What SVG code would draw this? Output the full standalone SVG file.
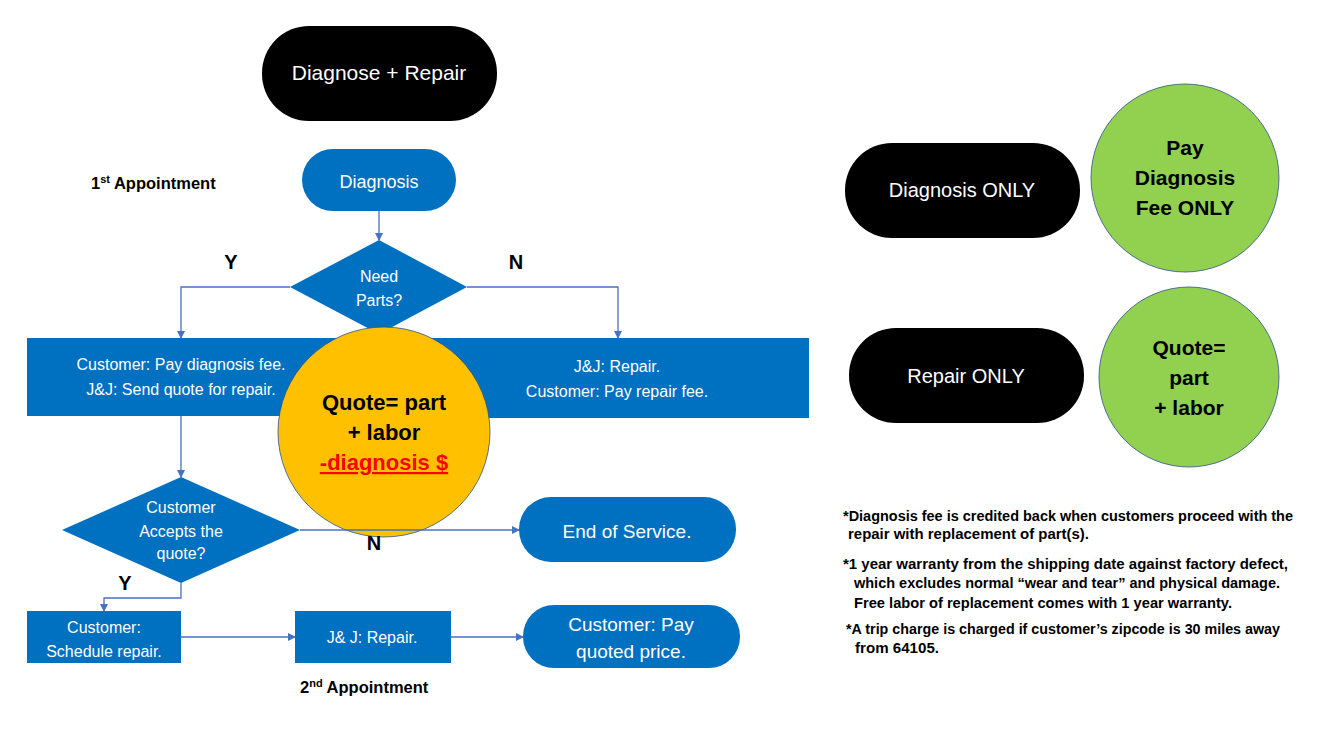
<svg xmlns="http://www.w3.org/2000/svg" width="1321" height="732" viewBox="0 0 1321 732">
<style>
text{font-family:"Liberation Sans",Arial,sans-serif;text-anchor:middle}
.w{fill:#fff;font-size:16px}
.wl{fill:#fff;font-size:19px}
.b{fill:#000;font-weight:bold}
.blue{fill:#0070C0}
.blk{fill:#000}
.c{stroke:#4472C4;stroke-width:1.3;fill:none}
.note{fill:#000;font-weight:bold;font-size:14px;text-anchor:start}
</style>
<defs>
<marker id="ah" markerWidth="8" markerHeight="8" refX="7" refY="4" orient="auto" markerUnits="userSpaceOnUse">
<path d="M0,0 L8,4 L0,8 z" fill="#4472C4"/>
</marker>
</defs>
<rect width="1321" height="732" fill="#fff"/>
<g id="title"><rect x="262" y="26" width="235" height="95" rx="47" class="blk"/><text x="379" y="80" class="wl" style="font-size:21px">Diagnose + Repair</text></g>
<g id="appt1"><text x="91" y="189" class="b" style="font-size:16.5px;text-anchor:start">1<tspan dy="-6" style="font-size:11px">st</tspan><tspan dy="6"> Appointment</tspan></text></g>
<g id="diagnosis"><rect x="302" y="149" width="154" height="62" rx="31" class="blue"/><text x="379" y="188" class="wl" style="font-size:18px">Diagnosis</text></g>
<g id="needparts"><polygon points="379,240 467,287 379,334 290,287" class="blue"/><text x="379" y="282" class="w">Need</text><text x="379" y="306" class="w">Parts?</text></g>
<g id="leftbox"><rect x="27" y="338" width="360" height="78" class="blue"/><text x="181" y="370" class="w">Customer: Pay diagnosis fee.</text><text x="181" y="395" class="w">J&amp;J: Send quote for repair.</text></g>
<g id="rightbox"><rect x="380" y="338" width="429" height="80" class="blue"/><text x="617" y="372" class="w">J&amp;J: Repair.</text><text x="617" y="397" class="w">Customer: Pay repair fee.</text></g>
<g id="accepts"><polygon points="181,477 300,530 181,583 62,530" class="blue"/><text x="181" y="513" class="w">Customer</text><text x="181" y="537" class="w">Accepts the</text><text x="181" y="559" class="w">quote?</text></g>
<g id="quotecircle"><ellipse cx="384" cy="432" rx="106" ry="105" fill="#FFC000" stroke="#2F528F" stroke-width="0.8"/><text x="384" y="410" class="b" style="font-size:22px">Quote= part</text><text x="384" y="440" class="b" style="font-size:22px">+ labor</text><text x="384" y="470" class="b" style="font-size:22px;fill:#FF0000;text-decoration:underline">-diagnosis $</text></g>
<g id="endservice"><rect x="519" y="497" width="217" height="65" rx="32" class="blue"/><text x="627" y="538" class="wl">End of Service.</text></g>
<g id="schedule"><rect x="27" y="611" width="154" height="52" class="blue"/><text x="104" y="633" class="w">Customer:</text><text x="104" y="657" class="w">Schedule repair.</text></g>
<g id="jjrepair"><rect x="295" y="611" width="156" height="52" class="blue"/><text x="372" y="643" class="w">J&amp; J: Repair.</text></g>
<g id="pay"><rect x="523" y="605" width="217" height="63" rx="31" class="blue"/><text x="631" y="631" class="wl">Customer: Pay</text><text x="631" y="658" class="wl">quoted price.</text></g>
<g id="appt2"><text x="300" y="693" class="b" style="font-size:16.5px;text-anchor:start">2<tspan dy="-6" style="font-size:11px">nd</tspan><tspan dy="6"> Appointment</tspan></text></g>
<g id="connectors">
<line x1="379" y1="211" x2="379" y2="240" class="c" marker-end="url(#ah)"/>
<polyline points="290,287 181,287 181,338" class="c" marker-end="url(#ah)"/>
<polyline points="467,287 618,287 618,338" class="c" marker-end="url(#ah)"/>
<line x1="181" y1="416" x2="181" y2="477" class="c" marker-end="url(#ah)"/>
<line x1="300" y1="530" x2="519" y2="530" class="c" marker-end="url(#ah)"/>
<polyline points="181,583 181,598 104,598 104,611" class="c" marker-end="url(#ah)"/>
<line x1="181" y1="637" x2="295" y2="637" class="c" marker-end="url(#ah)"/>
<line x1="451" y1="637" x2="523" y2="637" class="c" marker-end="url(#ah)"/>
</g>
<g id="labels">
<text x="231" y="269" class="b" style="font-size:20px">Y</text>
<text x="516" y="269" class="b" style="font-size:20px">N</text>
<text x="374" y="550" class="b" style="font-size:20px">N</text>
<text x="125" y="590" class="b" style="font-size:20px">Y</text>
</g>
<g id="diagonly"><rect x="845" y="143" width="235" height="95" rx="47" class="blk"/><text x="962" y="197" class="wl" style="font-size:20px">Diagnosis ONLY</text></g>
<g id="payfee"><circle cx="1185" cy="178" r="94" fill="#92D050" stroke="#2F528F" stroke-width="0.8"/><text x="1185" y="155" class="b" style="font-size:21px">Pay</text><text x="1185" y="185" class="b" style="font-size:21px">Diagnosis</text><text x="1185" y="215" class="b" style="font-size:21px">Fee ONLY</text></g>
<g id="repaironly"><rect x="849" y="328" width="235" height="95" rx="47" class="blk"/><text x="966" y="383" class="wl" style="font-size:20px">Repair ONLY</text></g>
<g id="quote2"><circle cx="1189" cy="377" r="90" fill="#92D050" stroke="#2F528F" stroke-width="0.8"/><text x="1189" y="355" class="b" style="font-size:21px">Quote=</text><text x="1189" y="385" class="b" style="font-size:21px">part</text><text x="1189" y="415" class="b" style="font-size:21px">+ labor</text></g>
<g id="notes">
<text x="843" y="521" class="note" textLength="450" lengthAdjust="spacingAndGlyphs">*Diagnosis fee is credited back when customers proceed with the</text>
<text x="848" y="539" class="note" textLength="241" lengthAdjust="spacingAndGlyphs">repair with replacement of part(s).</text>
<text x="843" y="569" class="note" textLength="445" lengthAdjust="spacingAndGlyphs">*1 year warranty from the shipping date against factory defect,</text>
<text x="854" y="588" class="note" textLength="426" lengthAdjust="spacingAndGlyphs">which excludes normal “wear and tear” and physical damage.</text>
<text x="854" y="608" class="note" textLength="378" lengthAdjust="spacingAndGlyphs">Free labor of replacement comes with 1 year warranty.</text>
<text x="846" y="634" class="note" textLength="434" lengthAdjust="spacingAndGlyphs">*A trip charge is charged if customer’s zipcode is 30 miles away</text>
<text x="855" y="653" class="note" textLength="84" lengthAdjust="spacingAndGlyphs">from 64105.</text>
</g>
</svg>
